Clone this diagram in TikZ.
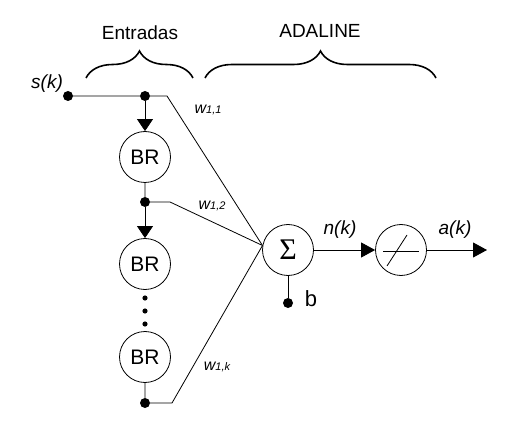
\documentclass[tikz,border=0pt]{standalone}
\usepackage{fontspec}
\setmainfont{Liberation Sans}
\newfontfamily\sigfont{Liberation Serif}
\usetikzlibrary{arrows.meta,positioning,decorations.pathreplacing}

\newcommand{\wgt}[1]{{\fontsize{16}{16}\selectfont\itshape w}{\fontsize{11}{11}\selectfont\itshape #1}}

\tikzset{
  neuron/.style={draw, circle, minimum size=51pt, inner sep=0pt, line width=0.8pt, font=\fontsize{21}{21}\selectfont},
  dot/.style={circle, fill, inner sep=0pt, minimum size=10pt},
  wire/.style={line width=0.8pt},
  vtip/.style={-{Triangle[length=12pt,width=16pt]}},
  htip/.style={-{Triangle[length=14pt,width=15pt]}},
  lbl/.style={font=\fontsize{19}{19}\selectfont\itshape},
  title/.style={font=\fontsize{19}{19}\selectfont},
  brace/.style={decorate, decoration={brace, amplitude=27pt}, line width=1.6pt}
}

\begin{document}
\begin{tikzpicture}[x=1pt, y=-1pt]
\useasboundingbox (0,0) rectangle (511,430);

\node[dot] (in) at (68,96) {};
\node[dot] (j1) at (145,96) {};
\node[neuron] (br1) at (145,157) {BR};
\node[dot] (j2) at (145,202) {};
\node[neuron] (br2) at (145,264) {BR};
\node[neuron] (br3) at (145,357) {BR};
\node[dot] (j3) at (145,403) {};
\node[neuron, font=\sigfont\fontsize{30}{30}\selectfont] (sum) at (288,250) {Σ};
\node[neuron] (act) at (401,250) {};
\node[dot] (bias) at (288,303) {};
\coordinate (k1) at (167,96);
\coordinate (k2) at (170,202);
\coordinate (k3) at (172,403);
\coordinate (out) at (487,250);

\foreach \y in {298,311,324}
  \fill (145,\y) circle (2.6pt);

\draw[wire] (in) -- (j1) -- (k1) -- (sum.170);
\draw[wire, vtip] (j1) -- (br1);
\draw[wire] (br1) -- (j2) -- (k2) -- (sum.170);
\draw[wire, vtip] (j2) -- (br2);
\draw[wire] (br3) -- (j3) -- (k3) -- (sum.170);
\draw[wire] (sum) -- (bias);
\draw[wire, htip] (sum) -- (act);
\draw[wire, htip] (act) -- (out);

\draw[wire] (383,251) -- (419,251);
\draw[wire] (387,266) -- (407,235);

\draw[brace] (86,78) -- (193,78);
\draw[brace] (205,78) -- (436,78);

\node[title] (entr) at (140,33) {Entradas};
\node[title] (adal) at (320,31) {ADALINE};
\node[lbl] (sk) at (47,84) {s(k)};
\node[lbl] (nk) at (340,230) {n(k)};
\node[lbl] (ak) at (455,230) {a(k)};
\node[font=\fontsize{22}{22}\selectfont] (b) at (311,299) {b};
\node (w11) at (208,110) {\wgt{1,1}};
\node (w12) at (212,206) {\wgt{1,2}};
\node (w1k) at (217,367) {\wgt{1,k}};
\end{tikzpicture}
\end{document}
